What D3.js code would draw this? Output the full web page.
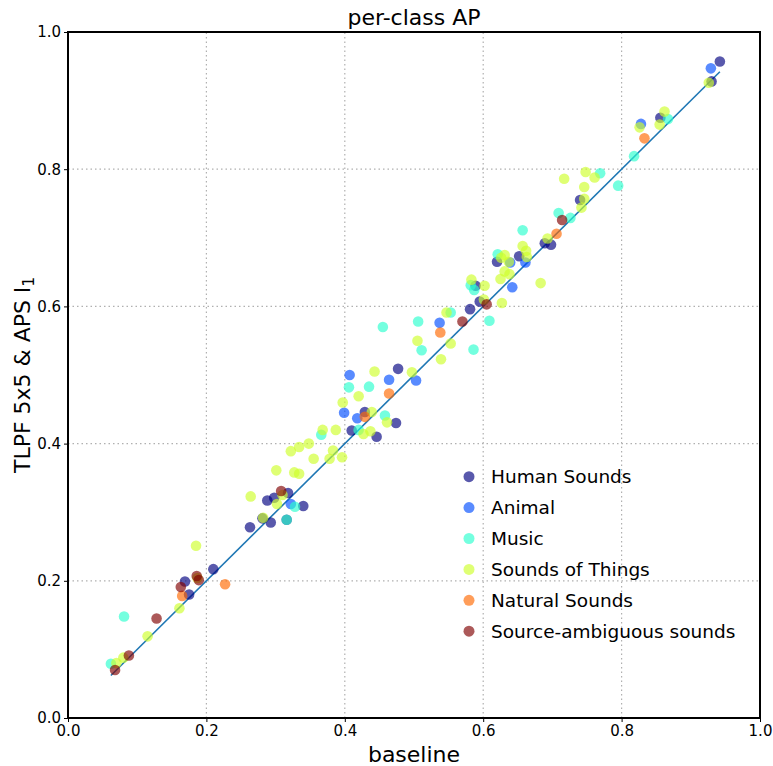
<!DOCTYPE html>
<html>
<head>
<meta charset="utf-8">
<script src="https://cdn.jsdelivr.net/npm/d3@7"></script>
<style>
  body { margin: 0; background: #fff; }
  text { font-family: "DejaVu Sans", sans-serif; }
</style>
</head>
<body>
<svg id="chart" width="773" height="766"></svg>
<script>
// data: [baseline, TLPF 5x5 & APS l1]
var categories = ["Human Sounds", "Animal", "Music", "Sounds of Things", "Natural Sounds", "Source-ambiguous sounds"];
var colors = ["#000080", "#004dff", "#29ffce", "#ceff29", "#ff6800", "#800000"];

var humanSounds = [[0.263,0.278],[0.210,0.217],[0.169,0.199],[0.175,0.180],[0.318,0.328],[0.298,0.321],
  [0.288,0.317],[0.340,0.309],[0.281,0.291],[0.293,0.285],[0.316,0.289],[0.410,0.419],[0.477,0.509],
  [0.429,0.446],[0.474,0.430],[0.446,0.410],[0.581,0.596],[0.595,0.607],[0.689,0.692],[0.698,0.690],
  [0.652,0.673],[0.620,0.665],[0.589,0.630],[0.740,0.755],[0.942,0.957],[0.930,0.928],[0.856,0.875]];
var animal = [[0.322,0.312],[0.399,0.445],[0.418,0.437],[0.407,0.500],[0.464,0.493],[0.503,0.492],
  [0.537,0.576],[0.639,0.664],[0.661,0.664],[0.642,0.628],[0.929,0.947],[0.828,0.866]];
var music = [[0.081,0.148],[0.062,0.079],[0.366,0.413],[0.420,0.420],[0.328,0.308],[0.316,0.289],
  [0.553,0.591],[0.609,0.579],[0.455,0.570],[0.506,0.578],[0.511,0.536],[0.586,0.537],[0.406,0.482],
  [0.435,0.483],[0.458,0.441],[0.657,0.711],[0.621,0.676],[0.582,0.631],[0.587,0.624],[0.818,0.819],
  [0.795,0.776],[0.769,0.794],[0.709,0.736],[0.726,0.729],[0.867,0.873]];
var soundsOfThings = [[0.185,0.251],[0.187,0.204],[0.161,0.160],[0.115,0.119],[0.080,0.088],[0.070,0.080],
  [0.397,0.460],[0.368,0.420],[0.387,0.420],[0.348,0.400],[0.322,0.389],[0.334,0.395],[0.383,0.390],
  [0.355,0.378],[0.378,0.378],[0.396,0.380],[0.301,0.361],[0.327,0.358],[0.334,0.356],[0.310,0.325],
  [0.264,0.323],[0.302,0.312],[0.282,0.292],[0.547,0.591],[0.505,0.550],[0.553,0.546],[0.539,0.523],
  [0.443,0.505],[0.497,0.504],[0.420,0.469],[0.439,0.446],[0.461,0.431],[0.427,0.414],[0.437,0.418],
  [0.693,0.699],[0.657,0.688],[0.662,0.681],[0.631,0.675],[0.626,0.671],[0.663,0.672],[0.637,0.665],
  [0.631,0.651],[0.638,0.647],[0.625,0.640],[0.683,0.634],[0.583,0.639],[0.602,0.630],[0.601,0.610],
  [0.627,0.605],[0.748,0.796],[0.761,0.788],[0.717,0.786],[0.746,0.774],[0.746,0.757],[0.742,0.744],
  [0.926,0.926],[0.862,0.884],[0.855,0.865],[0.826,0.861]];
var naturalSounds = [[0.227,0.195],[0.165,0.178],[0.538,0.562],[0.464,0.473],[0.429,0.439],[0.706,0.706],[0.833,0.845]];
var sourceAmbiguous = [[0.186,0.207],[0.189,0.201],[0.163,0.191],[0.128,0.145],[0.088,0.091],[0.068,0.070],
  [0.308,0.331],[0.570,0.578],[0.605,0.603],[0.714,0.726]];
var series = [humanSounds, animal, music, soundsOfThings, naturalSounds, sourceAmbiguous];
var ticks = [0, 0.2, 0.4, 0.6, 0.8, 1.0];

var svg = d3.select("#chart");
var margin = {left: 68, right: 13, top: 32, bottom: 48};
var width = 773, height = 766;

var x = d3.scaleLinear().domain([0, 1]).range([margin.left, width - margin.right]);
var y = d3.scaleLinear().domain([0, 1]).range([height - margin.bottom, margin.top]);

// grid
var grid = svg.append("g").attr("stroke", "#b0b0b0").attr("stroke-width", 1.2)
  .attr("stroke-dasharray", "1.5,3");
grid.selectAll(".gx").data(ticks.slice(1, -1)).enter().append("line")
  .attr("x1", function(d) { return x(d); }).attr("x2", function(d) { return x(d); })
  .attr("y1", y(0)).attr("y2", y(1));
grid.selectAll(".gy").data(ticks.slice(1, -1)).enter().append("line")
  .attr("y1", function(d) { return y(d); }).attr("y2", function(d) { return y(d); })
  .attr("x1", x(0)).attr("x2", x(1));

// identity line over the baseline range
var allPts = d3.merge(series);
var xr = d3.extent(allPts, function(d) { return d[0]; });
svg.append("line")
  .attr("x1", x(xr[0])).attr("y1", y(xr[0]))
  .attr("x2", x(xr[1])).attr("y2", y(xr[1]))
  .attr("stroke", "#1f77b4").attr("stroke-width", 1.6);

// points
series.forEach(function(pts, i) {
  svg.append("g").selectAll("circle").data(pts).enter().append("circle")
    .attr("cx", function(d) { return x(d[0]); })
    .attr("cy", function(d) { return y(d[1]); })
    .attr("r", 5.3)
    .attr("fill", colors[i])
    .attr("fill-opacity", 0.65);
});

// axes
var xAxis = svg.append("g").attr("transform", "translate(0," + y(0) + ")")
  .call(d3.axisBottom(x).tickValues(ticks).tickFormat(d3.format(".1f")).tickSize(4).tickPadding(3));
var yAxis = svg.append("g").attr("transform", "translate(" + x(0) + ",0)")
  .call(d3.axisLeft(y).tickValues(ticks).tickFormat(d3.format(".1f")).tickSize(4).tickPadding(3));
[xAxis, yAxis].forEach(function(a) {
  a.select(".domain").remove();
  a.selectAll("text").attr("font-size", 15).attr("fill", "#000")
    .style("font-family", "DejaVu Sans, sans-serif");
  a.selectAll(".tick line").attr("stroke", "#000").attr("stroke-width", 1);
});

// frame
svg.append("rect")
  .attr("x", x(0)).attr("y", y(1))
  .attr("width", x(1) - x(0)).attr("height", y(0) - y(1))
  .attr("fill", "none").attr("stroke", "#000").attr("stroke-width", 2);

// title and labels
svg.append("text").attr("x", (x(0) + x(1)) / 2).attr("y", 25)
  .attr("text-anchor", "middle").attr("font-size", 22).text("per-class AP");
svg.append("text").attr("x", (x(0) + x(1)) / 2).attr("y", 762)
  .attr("text-anchor", "middle").attr("font-size", 22).text("baseline");
var yl = svg.append("text")
  .attr("transform", "translate(30," + ((y(0) + y(1)) / 2) + ") rotate(-90)")
  .attr("text-anchor", "middle").attr("font-size", 22);
yl.append("tspan").text("TLPF 5x5 & APS l");
yl.append("tspan").attr("font-size", 15.5).attr("dy", 4).text("1");

// legend
var legend = svg.append("g").selectAll("g").data(categories).enter().append("g")
  .attr("transform", function(d, i) { return "translate(469," + (476.7 + i * 30.9) + ")"; });
legend.append("circle").attr("r", 5.5)
  .attr("fill", function(d, i) { return colors[i]; }).attr("fill-opacity", 0.65);
legend.append("text").attr("x", 22).attr("y", 6.7).attr("font-size", 18.5)
  .text(function(d) { return d; });
</script>
</body>
</html>
